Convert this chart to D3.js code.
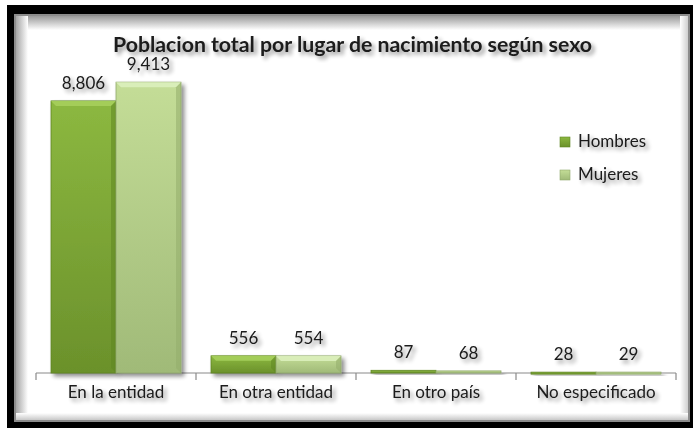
<!DOCTYPE html>
<html>
<head>
<meta charset="utf-8">
<script src="https://cdn.jsdelivr.net/npm/d3@7"></script>
<style>
  body { margin: 0; background: #fff; }
  text { font-family: Lato, "Noto Sans", sans-serif; fill: #1a1a1a; }
</style>
</head>
<body>
<svg id="chart_svg"></svg>
<script>
var viewWidth = 693;
var viewHeight = 428;

// data
var categories = ["En la entidad", "En otra entidad", "En otro país", "No especificado"];
var series = ["Hombres", "Mujeres"];
var hombres = [8806, 556, 87, 28];
var mujeres = [9413, 554, 68, 29];
var labels = ["8,806", "556", "87", "28"];
var labelsM = ["9,413", "554", "68", "29"];
var title = "Poblacion total por lugar de nacimiento según sexo";

var margin = {top: 64, left: 36, right: 17, bottom: 55};
var baseY = viewHeight - margin.bottom; // 373

var svg = d3.select("#chart_svg")
    .attr("width", viewWidth)
    .attr("height", viewHeight);

var defs = svg.append("defs");

// soft shadow for text and bars
var f = defs.append("filter").attr("id", "shadow")
    .attr("x", "-20%").attr("y", "-30%").attr("width", "150%").attr("height", "180%");
f.append("feGaussianBlur").attr("in", "SourceAlpha").attr("stdDeviation", 2.2).attr("result", "b");
f.append("feOffset").attr("in", "b").attr("dx", 3).attr("dy", 3).attr("result", "o");
f.append("feComponentTransfer").attr("in", "o").attr("result", "o2")
  .append("feFuncA").attr("type", "linear").attr("slope", 0.45);
var fm = f.append("feMerge");
fm.append("feMergeNode").attr("in", "o2");
fm.append("feMergeNode").attr("in", "SourceGraphic");

function vgrad(id, stops) {
  var g = defs.append("linearGradient").attr("id", id)
      .attr("x1", 0).attr("y1", 0).attr("x2", 0).attr("y2", 1);
  stops.forEach(function(s) {
    g.append("stop").attr("offset", s[0]).attr("stop-color", s[1]);
  });
}
function hgrad(id, stops) {
  var g = defs.append("linearGradient").attr("id", id)
      .attr("x1", 0).attr("y1", 0).attr("x2", 1).attr("y2", 0);
  stops.forEach(function(s) {
    g.append("stop").attr("offset", s[0]).attr("stop-color", s[1]);
  });
}
vgrad("gH", [[0, "#8cb840"], [1, "#6b912b"]]);
vgrad("gM", [[0, "#c4dd97"], [1, "#a0ba78"]]);
// edge shading for the inner frame
vgrad("edgeTop", [[0, "#9a9a9a"], [1, "#ffffff"]]);
vgrad("edgeBot", [[0, "#ffffff"], [1, "#c8c8c8"]]);
hgrad("edgeLeft", [[0, "#a5a5a5"], [1, "#ffffff"]]);
hgrad("edgeRight", [[0, "#ffffff"], [1, "#cfcfcf"]]);

// frame
svg.append("rect").attr("x", 7).attr("y", 5).attr("width", viewWidth - 7).attr("height", viewHeight - 5)
    .attr("fill", "#000");
svg.append("rect").attr("x", 15).attr("y", 15).attr("width", 674).attr("height", 406)
    .attr("fill", "#fff").attr("stroke", "#8c8c8c").attr("stroke-width", 2);
svg.append("rect").attr("x", 16).attr("y", 16).attr("width", 672).attr("height", 14).attr("fill", "url(#edgeTop)");
svg.append("rect").attr("x", 16).attr("y", 16).attr("width", 12).attr("height", 404).attr("fill", "url(#edgeLeft)");
svg.append("rect").attr("x", 680).attr("y", 16).attr("width", 8).attr("height", 404).attr("fill", "url(#edgeRight)");
svg.append("rect").attr("x", 16).attr("y", 413).attr("width", 672).attr("height", 7).attr("fill", "url(#edgeBot)");

var x0 = d3.scaleBand()
    .domain(categories)
    .range([margin.left, viewWidth - margin.right]);
var x1 = d3.scaleBand()
    .domain(series)
    .range([15, x0.bandwidth() - 15]);
var y = d3.scaleLinear()
    .domain([0, 10000])
    .range([baseY, margin.top]);

var rows = categories.map(function(c, i) {
  return {cat: c, values: [
    {s: "Hombres", v: hombres[i], lab: labels[i]},
    {s: "Mujeres", v: mujeres[i], lab: labelsM[i]}
  ]};
});

// axis line + boundary ticks
var axisG = svg.append("g").attr("transform", "translate(0," + baseY + ")");
axisG.append("line").attr("x1", x0.range()[0]).attr("x2", x0.range()[1])
    .attr("stroke", "#8a8a8a").attr("stroke-width", 1.2);
var tickPos = categories.map(function(c) { return x0(c); }).concat([x0.range()[1]]);
axisG.selectAll(".tk").data(tickPos).enter().append("line")
    .attr("class", "tk")
    .attr("x1", function(d) { return d; }).attr("x2", function(d) { return d; })
    .attr("y1", 0).attr("y2", 7)
    .attr("stroke", "#8a8a8a").attr("stroke-width", 1.2);

// category labels via d3 axis
var xAxis = d3.axisBottom(x0).tickSize(0).tickPadding(0);
var labG = svg.append("g")
    .attr("transform", "translate(0," + (baseY + 20) + ")")
    .call(xAxis);
labG.select(".domain").remove();
labG.selectAll("text")
    .attr("y", 0).attr("dy", "0.32em")
    .style("font-size", "17px").style("font-family", "Lato, 'Noto Sans', sans-serif")
    .attr("fill", "#1a1a1a")
    .attr("filter", "url(#shadow)");

// bars
var groups = svg.selectAll(".grp").data(rows).enter().append("g")
    .attr("class", "grp")
    .attr("transform", function(d) { return "translate(" + x0(d.cat) + ",0)"; });

var bars = groups.selectAll(".bar").data(function(d) { return d.values; }).enter()
    .append("g").attr("class", "bar");

bars.append("rect")
    .attr("x", function(d) { return x1(d.s); })
    .attr("y", function(d) { return y(d.v); })
    .attr("width", x1.bandwidth())
    .attr("height", function(d) { return Math.max(2, baseY - y(d.v)); })
    .attr("fill", function(d) { return d.s == "Hombres" ? "url(#gH)" : "url(#gM)"; })
    .attr("stroke", function(d) { return d.s == "Hombres" ? "#5f8524" : "#90a96c"; })
    .attr("stroke-width", 0.8)
    .attr("filter", "url(#shadow)");

// bevel highlight on top of the taller bars
bars.filter(function(d) { return baseY - y(d.v) > 8; }).append("path")
    .attr("d", function(d) {
      var l = x1(d.s), r = l + x1.bandwidth(), t = y(d.v), b = 5;
      return "M" + l + "," + t + "L" + r + "," + t + "L" + (r - b) + "," + (t + b) + "L" + (l + b) + "," + (t + b) + "Z";
    })
    .attr("fill", function(d) { return d.s == "Hombres" ? "#a6cf5c" : "#dcefbc"; })
    .attr("opacity", 0.9);
bars.filter(function(d) { return baseY - y(d.v) > 8; }).append("path")
    .attr("d", function(d) {
      var l = x1(d.s), r = l + x1.bandwidth(), t = y(d.v), b = 5;
      return "M" + r + "," + t + "L" + r + "," + baseY + "L" + (r - b) + "," + (baseY - b) + "L" + (r - b) + "," + (t + b) + "Z";
    })
    .attr("fill", function(d) { return d.s == "Hombres" ? "#5e8620" : "#93ad6c"; })
    .attr("opacity", 0.55);

// value labels
bars.append("text")
    .attr("x", function(d) { return x1(d.s) + x1.bandwidth() / 2; })
    .attr("y", function(d) { return y(d.v) - 12; })
    .attr("text-anchor", "middle")
    .style("font-size", "17px")
    .attr("filter", "url(#shadow)")
    .text(function(d) { return d.lab; });

// title
svg.append("text")
    .attr("x", 113).attr("y", 52)
    .attr("textLength", 479).attr("lengthAdjust", "spacingAndGlyphs")
    .style("font-size", "21px").style("font-weight", "bold")
    .attr("filter", "url(#shadow)")
    .text(title);

// legend
var legend = svg.selectAll(".leg").data(series).enter().append("g")
    .attr("class", "leg")
    .attr("transform", function(d, i) { return "translate(560," + (137 + i * 33) + ")"; });
legend.append("rect")
    .attr("width", 10).attr("height", 10)
    .attr("fill", function(d) { return d == "Hombres" ? "url(#gH)" : "url(#gM)"; })
    .attr("stroke", function(d) { return d == "Hombres" ? "#5f8524" : "#90a96c"; })
    .attr("stroke-width", 0.6);
legend.append("text")
    .attr("x", 18).attr("y", 10)
    .style("font-size", "17px")
    .attr("filter", "url(#shadow)")
    .text(function(d) { return d; });
</script>
</body>
</html>
